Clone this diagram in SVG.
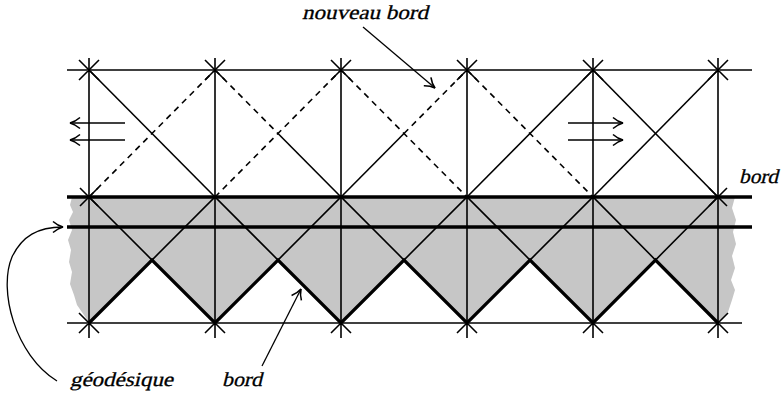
<svg xmlns="http://www.w3.org/2000/svg" width="783" height="397" viewBox="0 0 783 397">
<defs>
<style>
.thin{stroke:#000;stroke-width:1.6;fill:none}
.dash{stroke:#000;stroke-width:1.6;fill:none;stroke-dasharray:6 5}
.thick{stroke:#000;stroke-width:3.3;fill:none}
.arr{stroke:#000;stroke-width:1.3;fill:none;marker-end:url(#head)}
.lbl{font-family:'Liberation Serif',serif;font-size:20px;fill:#000;stroke:#000;stroke-width:0.3}
</style>
<marker id="head" viewBox="-11 -7 13 14" refX="0" refY="0" markerWidth="13" markerHeight="14" markerUnits="userSpaceOnUse" orient="auto">
<path d="M-10,-5.5 C-6,-2 -2,-0.5 0,0 C-2,0.5 -6,2 -10,5.5" stroke="#000" stroke-width="1.6" fill="none"/>
</marker>
</defs>
<rect width="783" height="397" fill="#fff"/>

<g id="shaded">
<path fill="#c6c6c6" d="M72,197 L735,197 L732,208 L736,220 L733,232 L736,244 L732,256 L735,268 L731,280 L735,290 L732,300 L728,312 L718,323 L655.5,260 L593,323 L530,260 L467,323 L404,260 L341,323 L278,260 L215,323 L152,260 L89,323 L86,318 L77,305 L74,295 L70,284 L72,272 L69,262 L71,250 L68,240 L72,230 L69,220 L73,212 L70,205 Z"/>
</g>

<g id="grid">
<line class="thin" x1="67" y1="70" x2="752" y2="70"/>
<line class="thin" x1="67" y1="323" x2="742" y2="323"/>
<line class="thin" x1="89" y1="58" x2="89" y2="338"/>
<line class="thin" x1="215" y1="58" x2="215" y2="338"/>
<line class="thin" x1="341" y1="58" x2="341" y2="338"/>
<line class="thin" x1="467" y1="58" x2="467" y2="338"/>
<line class="thin" x1="593" y1="58" x2="593" y2="338"/>
<line class="thin" x1="718" y1="58" x2="718" y2="338"/>
</g>

<g id="upper-band">
<line class="thin" x1="89" y1="70" x2="215" y2="197"/>
<line class="dash" x1="89" y1="197" x2="215" y2="70"/>
<line class="dash" x1="215" y1="70" x2="278" y2="133.5"/>
<line class="thin" x1="278" y1="133.5" x2="341" y2="197"/>
<line class="dash" x1="215" y1="197" x2="341" y2="70"/>
<line class="dash" x1="341" y1="70" x2="467" y2="197"/>
<line class="thin" x1="341" y1="197" x2="404" y2="133.5"/>
<line class="dash" x1="404" y1="133.5" x2="467" y2="70"/>
<line class="dash" x1="467" y1="70" x2="593" y2="197"/>
<line class="thin" x1="467" y1="197" x2="593" y2="70"/>
<line class="thin" x1="593" y1="70" x2="718" y2="197"/>
<line class="thin" x1="593" y1="197" x2="718" y2="70"/>
</g>

<g id="lower-band">
<path class="thin" d="M89,197 L152,260 L215,197 L278,260 L341,197 L404,260 L467,197 L530,260 L593,197 L655.5,260 L718,197"/>
<path class="thick" d="M89,323 L152,260 L215,323 L278,260 L341,323 L404,260 L467,323 L530,260 L593,323 L655.5,260 L718,323"/>
<line class="thick" x1="67" y1="197" x2="752" y2="197"/>
<line class="thick" x1="67" y1="227" x2="752" y2="227"/>
</g>

<g id="stars">
<path class="thin" d="M79,60 L99,80 M79,80 L99,60 M205,60 L225,80 M205,80 L225,60 M331,60 L351,80 M331,80 L351,60 M457,60 L477,80 M457,80 L477,60 M583,60 L603,80 M583,80 L603,60 M708,60 L728,80 M708,80 L728,60"/>
<path class="thin" d="M80,188 L98,206 M80,206 L98,188 M709,188 L727,206 M709,206 L727,188"/>
<path class="thin" d="M79,313 L99,333 M79,333 L99,313 M205,313 L225,333 M205,333 L225,313 M331,313 L351,333 M331,333 L351,313 M457,313 L477,333 M457,333 L477,313 M583,313 L603,333 M583,333 L603,313 M708,313 L728,333 M708,333 L728,313"/>
</g>

<g id="shift-arrows">
<line class="arr" x1="125" y1="123" x2="70" y2="123"/>
<line class="arr" x1="125" y1="140" x2="70" y2="140"/>
<line class="arr" x1="568" y1="123" x2="623" y2="123"/>
<line class="arr" x1="568" y1="140" x2="623" y2="140"/>
</g>

<g id="connectors">
<line class="arr" x1="363" y1="27" x2="435" y2="88"/>
<line class="arr" x1="262" y1="366" x2="301" y2="289"/>
<path class="arr" d="M57,381 C15,355 -2,290 12,257 C22,236 38,227 63,227"/>
</g>

<g id="label-nouveau-bord" transform="translate(302,19) skewX(-14)"><text class="lbl" x="0" y="0" textLength="126" lengthAdjust="spacingAndGlyphs">nouveau bord</text></g>
<g id="label-bord-top" transform="translate(739,183) skewX(-14)"><text class="lbl" x="0" y="0" textLength="39" lengthAdjust="spacingAndGlyphs">bord</text></g>
<g id="label-geodesique" transform="translate(70,386) skewX(-14)"><text class="lbl" x="0" y="0" textLength="103" lengthAdjust="spacingAndGlyphs">géodésique</text></g>
<g id="label-bord-bottom" transform="translate(222,386) skewX(-14)"><text class="lbl" x="0" y="0" textLength="40" lengthAdjust="spacingAndGlyphs">bord</text></g>
</svg>
